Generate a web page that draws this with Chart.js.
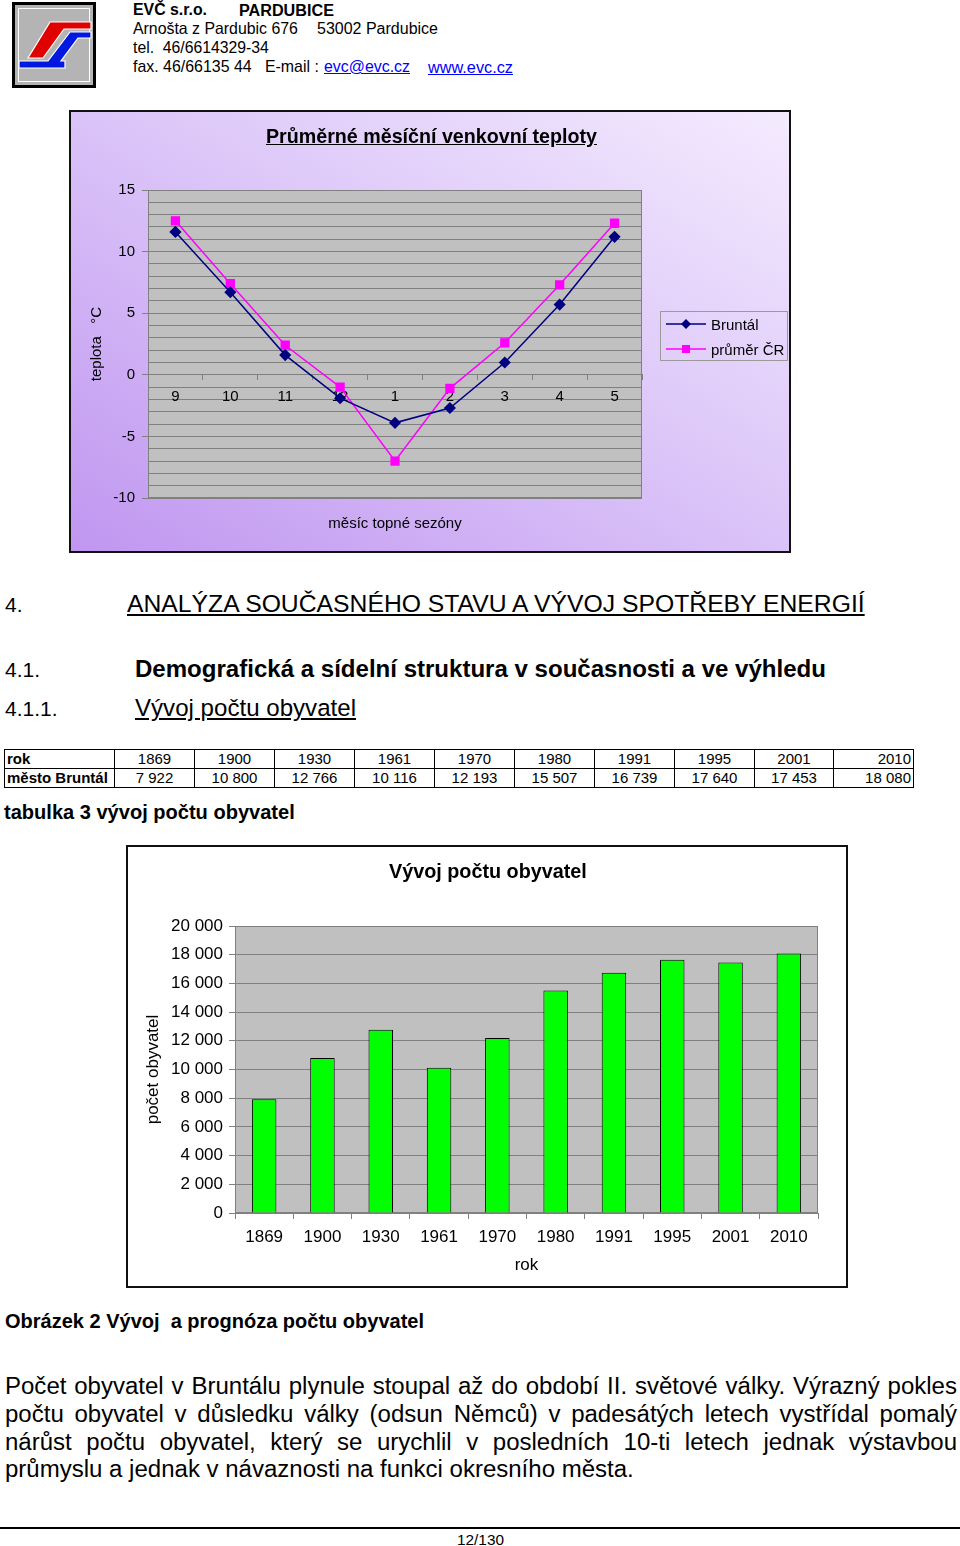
<!DOCTYPE html>
<html><head><meta charset="utf-8">
<script src="https://cdn.jsdelivr.net/npm/chart.js@4.4.1/dist/chart.umd.min.js"></script>
<style>
body{margin:0;width:960px;height:1546px;position:relative;background:#fff;font-family:"Liberation Sans",Arial,sans-serif;color:#000;overflow:hidden}
.t{position:absolute;white-space:pre;line-height:1}
.b{font-weight:bold}
.u{text-decoration:underline}
.lnk{color:#0000ff;text-decoration:underline}
#box1{position:absolute;left:69px;top:110px;width:722px;height:443px;box-sizing:border-box;border:2px solid #111;background:linear-gradient(to top right,#c096f0 0%,#dac3f8 50%,#f4ebfe 100%)}
#box2{position:absolute;left:126px;top:845px;width:722px;height:443px;box-sizing:border-box;border:2px solid #111;background:#fff}
canvas{position:absolute;left:0;top:0}
#legend{position:absolute;left:660px;top:311px;width:128px;height:50px;box-sizing:border-box;border:1px solid #9a9a9a;font-size:15px}
#legend .it{position:absolute;left:5px;height:14px;display:flex;align-items:center}
#legend svg{margin-right:5px}
#tbl{position:absolute;left:4px;top:749px;border-collapse:collapse;font-size:15px;table-layout:fixed}
#tbl td{border:1px solid #000;height:18px;padding:0 2px;text-align:center;line-height:18px;white-space:nowrap;overflow:hidden}
#tbl td.h{text-align:left;font-weight:bold}
#tbl td.r{text-align:right}
#rule{position:absolute;left:0;top:1527px;width:960px;height:2px;background:#000}
</style>
</head><body>
<svg style="position:absolute;left:12px;top:2px" width="84" height="86" viewBox="0 0 84 86">
  <rect x="0" y="0" width="84" height="86" fill="#000"/>
  <rect x="3" y="3" width="78" height="80" fill="#b4b4b4"/>
  <rect x="6.5" y="6.5" width="71" height="73" fill="none" stroke="#fff" stroke-width="1"/>
  <polygon points="38,20 79,20 79,27 52,27 31,56 16,56" fill="#e00000" stroke="#fff" stroke-width="1.2"/>
  <polygon points="58,30 79,30 79,36 66,36 49,59 53,59 53,66 7,66 7,59 36,59" fill="#0018e0" stroke="#fff" stroke-width="1.2"/>
</svg>

<div id="box1"><canvas id="c1" width="718" height="439"></canvas></div>
<div id="legend">
  <div class="it" style="top:5px"><svg width="40" height="12"><line x1="0" y1="6" x2="40" y2="6" stroke="#000080" stroke-width="1.5"/><polygon points="20,1 25,6 20,11 15,6" fill="#000080"/></svg><span>Bruntál</span></div>
  <div class="it" style="top:30px"><svg width="40" height="12"><line x1="0" y1="6" x2="40" y2="6" stroke="#ff00ff" stroke-width="1.5"/><rect x="16" y="2" width="8" height="8" fill="#ff00ff"/></svg><span>průměr ČR</span></div>
</div>

<table id="tbl"></table>

<div id="box2"><canvas id="c2" width="718" height="439"></canvas></div>
<div id="rule"></div>

<script>
// ---------- data ----------
const months = ['9', '10', '11', '12', '1', '2', '3', '4', '5'];
const tempBruntal = [11.6, 6.7, 1.6, -1.9, -3.9, -2.7, 1.0, 5.7, 11.2];
const tempCR = [12.5, 7.4, 2.4, -1.0, -7.0, -1.1, 2.6, 7.3, 12.3];
const years = ['1869', '1900', '1930', '1961', '1970', '1980', '1991', '1995', '2001', '2010'];
const population = [7922, 10800, 12766, 10116, 12193, 15507, 16739, 17640, 17453, 18080];

function fmt(n){ return String(n).replace(/\B(?=(\d{3})+(?!\d))/g, ' '); }

// ---------- text helpers ----------
function T(txt, x, cy, w, cls){
  const d = document.createElement('div');
  d.className = 't ' + (cls || '');
  d.textContent = txt;
  d.style.left = x + 'px';
  d.style.fontSize = '20px';
  document.body.appendChild(d);
  const mw = d.getBoundingClientRect().width;
  const fs = 20 * w / mw;
  d.style.fontSize = fs.toFixed(2) + 'px';
  d.style.top = (cy - fs * 0.5).toFixed(1) + 'px';
  return d;
}
function F(txt, x, cy, fs, cls){
  const d = document.createElement('div');
  d.className = 't ' + (cls || '');
  d.textContent = txt;
  d.style.left = x + 'px';
  d.style.fontSize = fs + 'px';
  d.style.top = (cy - fs * 0.5).toFixed(1) + 'px';
  document.body.appendChild(d);
  return d;
}

// header
T('EVČ s.r.o.', 133, 10, 74, 'b');
T('PARDUBICE', 239, 10, 95, 'b');
T('Arnošta z Pardubic 676', 133, 29, 165);
T('53002 Pardubice', 317, 29, 121);
T('tel.  46/6614329-34', 133, 48, 136);
T('fax. 46/66135 44   E-mail :', 133, 67, 186);
T('evc@evc.cz', 324, 67, 86, 'lnk');
T('www.evc.cz', 428, 67, 85, 'lnk');

// chart 1 title
T('Průměrné měsíční venkovní teploty', 266, 137, 331, 'b u');

// headings
F('4.', 5, 604, 21);
T('ANALÝZA SOUČASNÉHO STAVU A VÝVOJ SPOTŘEBY ENERGIÍ', 127, 604, 738, 'u');
F('4.1.', 5, 669, 21);
T('Demografická a sídelní struktura v současnosti a ve výhledu', 135, 669, 691, 'b');
F('4.1.1.', 5, 708, 21);
T('Vývoj počtu obyvatel', 135, 708, 221, 'u');
T('tabulka 3 vývoj počtu obyvatel', 4, 812, 291, 'b');
T('Vývoj počtu obyvatel', 389, 872, 198, 'b');
T('Obrázek 2 Vývoj  a prognóza počtu obyvatel', 5, 1321, 419, 'b');
T('12/130', 457, 1540, 47);

// paragraph
(function(){
  const lines = [
    'Počet obyvatel v\u00a0Bruntálu plynule stoupal až do období II. světové války. Výrazný pokles',
    'počtu obyvatel v\u00a0důsledku války (odsun Němců) v\u00a0padesátých letech vystřídal pomalý',
    'nárůst počtu obyvatel, který se urychlil v\u00a0posledních 10-ti letech jednak výstavbou',
    'průmyslu a jednak v návaznosti na funkci okresního města.'
  ];
  const ys = [1386, 1414, 1442, 1469];
  const last = T(lines[3], 5, ys[3], 629);
  const fs = parseFloat(last.style.fontSize);
  for (let i = 0; i < 3; i++){
    const d = document.createElement('div');
    d.className = 't';
    d.textContent = lines[i];
    d.style.whiteSpace = 'normal';
    d.style.left = '5px';
    d.style.width = '952px';
    d.style.fontSize = fs + 'px';
    d.style.textAlign = 'justify';
    d.style.textAlignLast = 'justify';
    d.style.top = (ys[i] - fs * 0.5) + 'px';
    document.body.appendChild(d);
  }
})();

// table
(function(){
  const tbl = document.getElementById('tbl');
  const widths = [110, 80, 80, 80, 80, 80, 80, 80, 80, 79, 80];
  const cg = document.createElement('colgroup');
  widths.forEach(w => { const c = document.createElement('col'); c.style.width = w + 'px'; cg.appendChild(c); });
  tbl.appendChild(cg);
  tbl.style.width = widths.reduce((a, b) => a + b, 0) + 'px';
  const r1 = tbl.insertRow(), r2 = tbl.insertRow();
  let c = r1.insertCell(); c.className = 'h'; c.textContent = 'rok';
  c = r2.insertCell(); c.className = 'h'; c.textContent = 'město Bruntál';
  years.forEach((y, i) => {
    const a = r1.insertCell(); a.textContent = y;
    const b = r2.insertCell(); b.textContent = fmt(population[i]);
    if (i === years.length - 1){ a.className = 'r'; b.className = 'r'; }
  });
})();

// ---------- charts ----------
Chart.defaults.font.family = '"Liberation Sans", Arial, sans-serif';
Chart.defaults.color = '#000';

const plotBg = {
  id: 'plotBg',
  beforeDraw(chart, args, opts){
    const {ctx, chartArea: a} = chart;
    ctx.save();
    ctx.fillStyle = opts.color;
    ctx.fillRect(a.left, a.top, a.width, a.height);
    ctx.restore();
  },
  beforeDatasetsDraw(chart, args, opts){
    const {ctx, chartArea: a} = chart;
    ctx.save();
    ctx.strokeStyle = opts.border;
    ctx.lineWidth = 1;
    ctx.strokeRect(Math.round(a.left) + 0.5, Math.round(a.top) + 0.5, Math.round(a.width) - 1, Math.round(a.height) - 1);
    ctx.restore();
  }
};

new Chart(document.getElementById('c1'), {
  type: 'line',
  data: {
    labels: months,
    datasets: [
      {label: 'Bruntál', data: tempBruntal, borderColor: '#000080', backgroundColor: '#000080',
       borderWidth: 1.5, pointStyle: 'rectRot', pointRadius: 5, pointBorderColor: '#000080',
       pointBackgroundColor: '#000080', tension: 0},
      {label: 'průměr ČR', data: tempCR, borderColor: '#ff00ff', backgroundColor: '#ff00ff',
       borderWidth: 1.5, pointStyle: 'rect', pointRadius: 5.5, pointBorderColor: '#ff00ff',
       pointBackgroundColor: '#ff00ff', tension: 0}
    ]
  },
  options: {
    responsive: false, animation: false,
    layout: {padding: {left: 0, right: 147, top: 78, bottom: 0}},
    plugins: {legend: {display: false}, tooltip: {enabled: false}, plotBg: {color: '#c0c0c0', border: '#808080'}},
    scales: {
      x: {axis: 'x', type: 'category', position: {y: 0}, offset: true,
          grid: {display: true, drawOnChartArea: false, drawTicks: true, tickLength: 5, tickColor: '#808080', offset: true},
          border: {display: true, color: '#808080'},
          ticks: {font: {size: 15}, padding: 8, autoSkip: false, maxRotation: 0}},
      x2: {axis: 'x', type: 'category', labels: months, position: 'bottom', offset: true,
           grid: {display: false}, border: {display: false}, ticks: {display: false},
           title: {display: true, text: 'měsíc topné sezóny', font: {size: 15}, padding: {top: 4, bottom: 18}},
           afterFit(s){ s.height = 53; }},
      y: {min: -10, max: 15,
          ticks: {stepSize: 1, autoSkip: false, font: {size: 15}, padding: 7,
                  callback: v => (v % 5 === 0 ? String(v) : '')},
          grid: {color: '#808080', tickLength: 6,
                 tickColor: c => (c.tick && c.tick.value % 5 === 0) ? '#808080' : 'rgba(0,0,0,0)'},
          border: {color: '#808080'},
          title: {display: true, text: 'teplota   °C', font: {size: 15}, padding: {top: 17, bottom: 4}},
          afterFit(s){ s.width = 77; }}
    }
  },
  plugins: [plotBg]
});

new Chart(document.getElementById('c2'), {
  type: 'bar',
  data: {
    labels: years,
    datasets: [{label: 'počet obyvatel', data: population, backgroundColor: '#00ff00', borderColor: '#000',
                borderWidth: 1, barPercentage: 0.42, categoryPercentage: 1}]
  },
  options: {
    responsive: false, animation: false,
    layout: {padding: {left: 0, right: 28, top: 79, bottom: 0}},
    plugins: {legend: {display: false}, tooltip: {enabled: false}, plotBg: {color: '#c0c0c0', border: '#808080'}},
    scales: {
      x: {grid: {drawOnChartArea: false, tickLength: 6, tickColor: '#808080', offset: true},
          border: {color: '#808080'},
          ticks: {font: {size: 17}, padding: 8, autoSkip: false, maxRotation: 0},
          title: {display: true, text: 'rok', font: {size: 17}, padding: {top: 4, bottom: 10}},
          afterFit(s){ s.height = 73; }},
      y: {min: 0, max: 20000,
          ticks: {stepSize: 2000, font: {size: 17}, padding: 6, callback: v => fmt(v)},
          grid: {color: '#808080', tickLength: 6, tickColor: '#808080'},
          border: {color: '#808080'},
          title: {display: true, text: 'počet obyvatel', font: {size: 17}, padding: {top: 15, bottom: 4}},
          afterFit(s){ s.width = 107; }}
    }
  },
  plugins: [plotBg]
});
</script>
</body></html>
